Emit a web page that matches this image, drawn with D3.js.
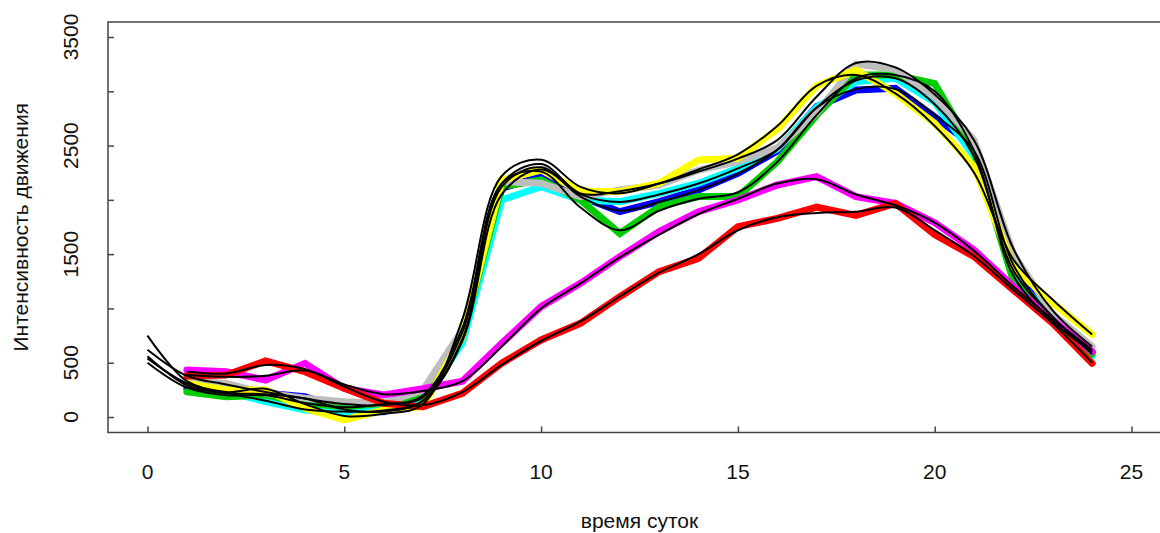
<!DOCTYPE html>
<html>
<head>
<meta charset="utf-8">
<script src="https://cdn.jsdelivr.net/npm/d3@7"></script>
<style>
    body { margin: 0; background: #fff; }
    text { font-family: "Liberation Sans", Arial, sans-serif; fill: #111; }
</style>
</head>
<body>
<script>
"use strict";

// hours of the colored series
var hours = [1, 2, 3, 4, 5, 6, 7, 8, 9, 10, 11, 12, 13, 14, 15, 16, 17, 18, 19, 20, 21, 22, 23, 24];
// hours of the smoothed (black) series
var hoursFit = [0, 1, 2, 3, 4, 5, 6, 7, 8, 9, 10, 11, 12, 13, 14, 15, 16, 17, 18, 19, 20, 21, 22, 23, 24];

var blue    = [264, 218, 218, 187, 64, 49, 157, 700, 2107, 2214, 2030, 1891, 1983, 2091, 2245, 2450, 2858, 3012, 3027, 2766, 2490, 1350, 900, 600];
var cyan    = [325, 233, 141, 64, 49, 64, 157, 679, 1999, 2122, 1999, 1983, 2060, 2153, 2291, 2470, 2850, 3088, 3119, 2900, 2400, 1300, 900, 560];
var green   = [233, 187, 203, 126, 95, 126, 187, 740, 2122, 2183, 1999, 1690, 1937, 2030, 2030, 2350, 2780, 3150, 3150, 3070, 2450, 1250, 880, 580];
var gray    = [341, 310, 218, 172, 141, 126, 249, 801, 2168, 2153, 2030, 2091, 2137, 2275, 2352, 2480, 2800, 3250, 3200, 2950, 2550, 1500, 950, 650];
var yellow  = [310, 249, 249, 80, -27, 64, 95, 740, 2183, 2275, 2076, 2076, 2153, 2367, 2383, 2650, 3050, 3196, 2981, 2704, 2306, 1380, 1050, 760];
var magenta = [433, 417, 341, 494, 264, 203, 260, 330, 679, 1016, 1231, 1477, 1707, 1891, 1999, 2137, 2214, 2030, 1968, 1790, 1538, 1201, 894, 602];
var red     = [378, 387, 516, 417, 264, 126, 95, 218, 495, 710, 863, 1108, 1339, 1462, 1753, 1830, 1934, 1857, 1968, 1680, 1477, 1170, 863, 494];

// smoothed curves (black), hour 0..24; red and magenta fits start at hour 1
var fitYellow  = [750, 330, 230, 260, 120, 10, 30, 120, 900, 2220, 2370, 2120, 2060, 2150, 2280, 2420, 2680, 3050, 3150, 2980, 2680, 2250, 1450, 1080, 760];
var fitGray    = [620, 380, 300, 230, 170, 120, 110, 200, 820, 2150, 2330, 2060, 2080, 2150, 2260, 2380, 2550, 2950, 3260, 3220, 2970, 2550, 1550, 980, 650];
var fitBlue    = [560, 290, 220, 210, 170, 70, 50, 150, 720, 2120, 2300, 2030, 1900, 1980, 2090, 2240, 2460, 2850, 3020, 3020, 2780, 2450, 1400, 920, 600];
var fitCyan    = [540, 310, 220, 150, 70, 50, 60, 150, 700, 2050, 2280, 2050, 1980, 2050, 2150, 2290, 2460, 2850, 3100, 3120, 2880, 2400, 1350, 920, 580];
var fitGreen   = [500, 270, 200, 200, 130, 90, 120, 180, 780, 2150, 2260, 1930, 1720, 1900, 2010, 2070, 2350, 2780, 3120, 3150, 3000, 2450, 1300, 880, 600];
var fitMagenta = [null, 390, 370, 380, 430, 300, 210, 240, 330, 650, 1000, 1230, 1470, 1680, 1870, 2010, 2150, 2190, 2050, 1950, 1790, 1530, 1200, 900, 620];
var fitRed     = [null, 420, 400, 480, 440, 280, 140, 110, 230, 480, 700, 880, 1110, 1330, 1500, 1720, 1840, 1880, 1890, 1930, 1720, 1480, 1170, 860, 500];

var xTicks = [0, 5, 10, 15, 20, 25];
var yTicks = [0, 500, 1000, 1500, 2000, 2500, 3000, 3500];
var yLabels = [0, 500, 1500, 2500, 3500];

var width = 1160;
var height = 533;

var svg = d3.select("body")
    .append("svg")
    .attr("width", width)
    .attr("height", height);

var x = d3.scaleLinear().domain([0, 25]).range([147.5, 1131.5]);
var y = d3.scaleLinear().domain([0, 3500]).range([417, 37]);

var box = { left: 108, top: 22, right: 1172, bottom: 432.5 };

// colored series
var series = [
    { color: "#0000ff", values: blue },
    { color: "#00ffff", values: cyan },
    { color: "#00cd00", values: green },
    { color: "#bebebe", values: gray },
    { color: "#ffff00", values: yellow },
    { color: "#ff00ff", values: magenta },
    { color: "#ff0000", values: red }
];
var fits = [fitBlue, fitCyan, fitGreen, fitGray, fitYellow, fitMagenta, fitRed];

var thickLine = d3.line()
    .x(function(d) { return x(d[0]); })
    .y(function(d) { return y(d[1]); });

var smoothLine = d3.line()
    .defined(function(d) { return d[1] !== null; })
    .curve(d3.curveCatmullRom.alpha(0.5))
    .x(function(d) { return x(d[0]); })
    .y(function(d) { return y(d[1]); });

svg.append("g")
    .attr("class", "series")
    .selectAll("path")
    .data(series)
    .enter()
    .append("path")
    .attr("d", function(s) { return thickLine(d3.zip(hours, s.values)); })
    .attr("fill", "none")
    .attr("stroke", function(s) { return s.color; })
    .attr("stroke-width", 7)
    .attr("stroke-linejoin", "miter")
    .attr("stroke-linecap", "round");

svg.append("g")
    .attr("class", "fits")
    .selectAll("path")
    .data(fits)
    .enter()
    .append("path")
    .attr("d", function(f) { return smoothLine(d3.zip(hoursFit, f)); })
    .attr("fill", "none")
    .attr("stroke", "#000")
    .attr("stroke-width", 2);

// box
svg.append("rect")
    .attr("x", box.left)
    .attr("y", box.top)
    .attr("width", box.right - box.left)
    .attr("height", box.bottom - box.top)
    .attr("fill", "none")
    .attr("stroke", "#444")
    .attr("stroke-width", 1.5);

// x axis: ticks pointing inward
var xAxis = svg.append("g")
    .attr("transform", "translate(0," + box.bottom + ")")
    .call(d3.axisBottom(x).tickValues(xTicks).tickSize(-6).tickFormat(""));
xAxis.select(".domain").remove();
xAxis.selectAll("line").attr("stroke", "#444").attr("stroke-width", 1.5);

svg.append("g")
    .selectAll("text")
    .data(xTicks)
    .enter()
    .append("text")
    .attr("x", function(d) { return x(d); })
    .attr("y", 479)
    .attr("text-anchor", "middle")
    .style("font-size", "21px")
    .text(function(d) { return d; });

// y axis
var yAxis = svg.append("g")
    .attr("transform", "translate(" + box.left + ",0)")
    .call(d3.axisLeft(y).tickValues(yTicks).tickSize(-6).tickFormat(""));
yAxis.select(".domain").remove();
yAxis.selectAll("line").attr("stroke", "#444").attr("stroke-width", 1.5);

svg.append("g")
    .selectAll("text")
    .data(yLabels)
    .enter()
    .append("text")
    .attr("transform", function(d) { return "translate(78," + y(d) + ") rotate(-90)"; })
    .attr("text-anchor", "middle")
    .style("font-size", "21px")
    .text(function(d) { return d; });

// axis titles
svg.append("text")
    .attr("x", 639.5)
    .attr("y", 528)
    .attr("text-anchor", "middle")
    .style("font-size", "21px")
    .text("время суток");

svg.append("text")
    .attr("transform", "translate(28," + ((box.top + box.bottom) / 2) + ") rotate(-90)")
    .attr("text-anchor", "middle")
    .style("font-size", "21px")
    .text("Интенсивность движения");
</script>
</body>
</html>
